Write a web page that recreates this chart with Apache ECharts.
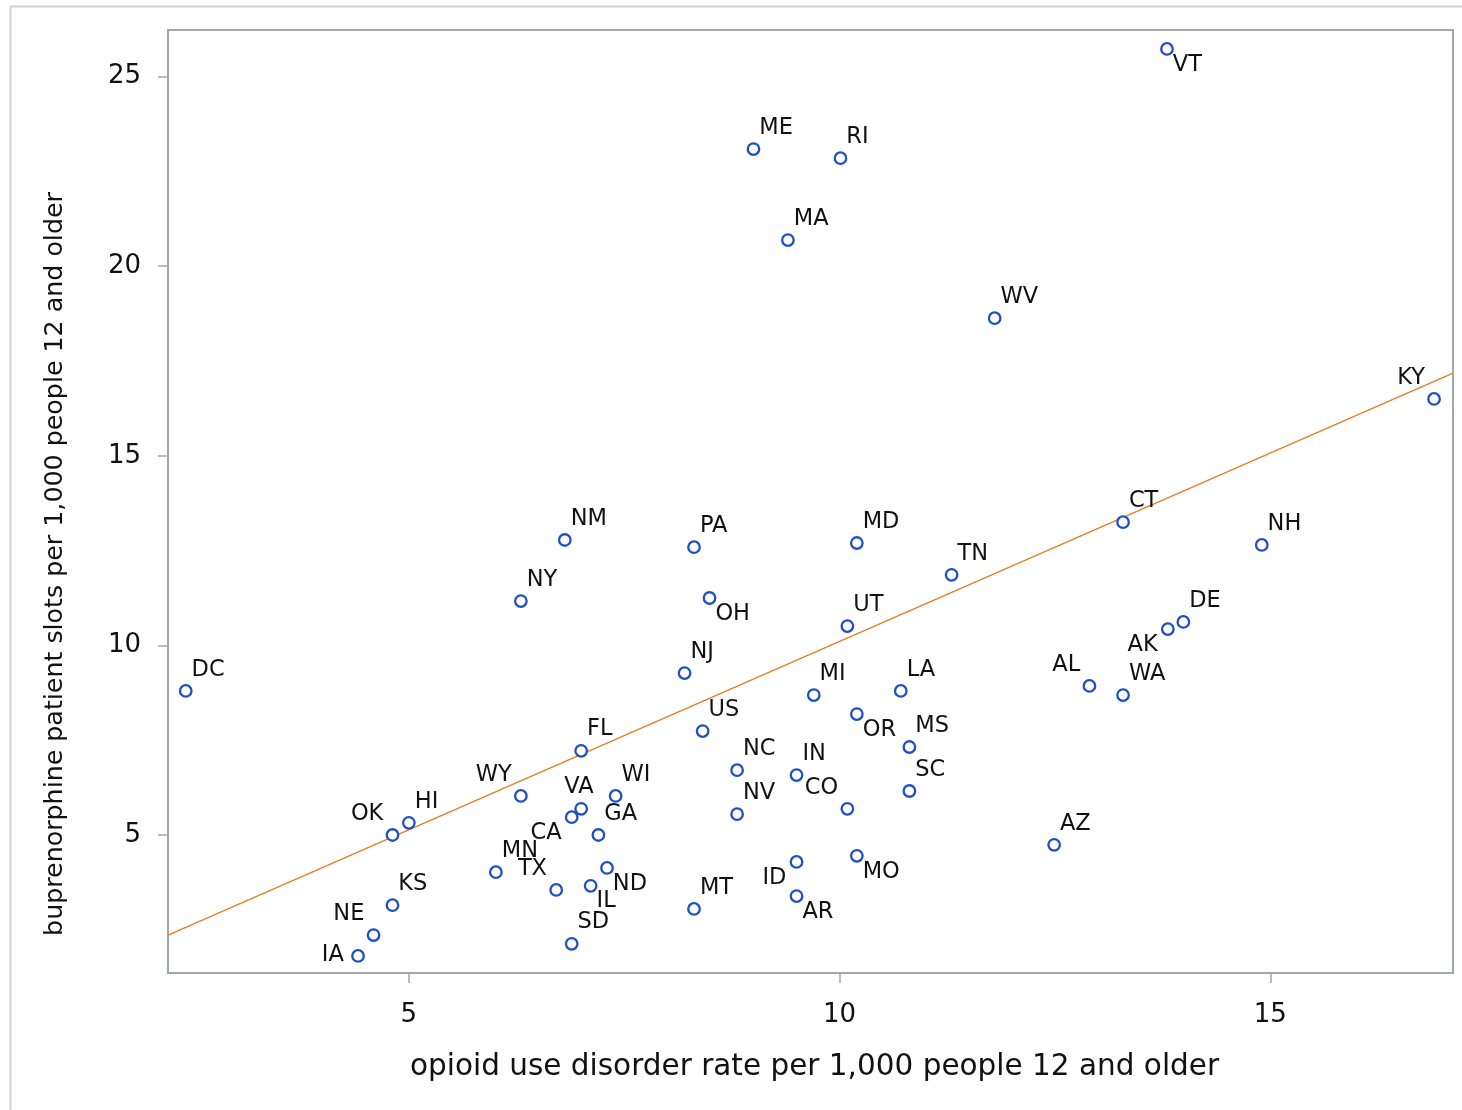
<!DOCTYPE html>
<html>
<head>
<meta charset="utf-8">
<script src="https://cdn.jsdelivr.net/npm/echarts@6/dist/echarts.min.js"></script>
<style>
html,body{margin:0;padding:0;background:#fff;}
#chart{width:1462px;height:1110px;}
</style>
</head>
<body>
<div id="chart"></div>
<script>
// ---- data ----
const states = ['VT','ME','RI','MA','WV','KY','CT','NH','NM','PA','MD','TN','NY','OH','UT','DE','AK','DC','NJ','MI','LA','AL','WA','OR','US','FL','MS','NC','IN','SC','WY','WI','VA','CA','CO','NV','HI','OK','GA','AZ','MO','ID','ND','MN','IL','TX','AR','KS','MT','NE','SD','IA'];
const oudRate = [13.80,9.00,10.01,9.40,11.80,16.90,13.29,14.90,6.81,8.31,10.20,11.30,6.30,8.49,10.09,13.99,13.81,2.41,8.20,9.70,10.71,12.90,13.29,10.20,8.41,7.00,10.81,8.81,9.50,10.81,6.30,7.40,7.00,6.89,10.09,8.81,5.00,4.81,7.20,12.49,10.20,9.50,7.30,6.01,7.11,6.71,9.50,4.81,8.31,4.59,6.89,4.41];
const slots   = [25.73,23.09,22.85,20.69,18.63,16.50,13.25,12.65,12.78,12.59,12.70,11.86,11.17,11.25,10.51,10.62,10.43,8.80,9.27,8.69,8.80,8.93,8.69,8.19,7.74,7.22,7.32,6.71,6.58,6.16,6.03,6.03,5.69,5.47,5.69,5.55,5.32,5.00,5.00,4.74,4.45,4.29,4.13,4.02,3.66,3.55,3.39,3.15,3.05,2.36,2.13,1.81];
// fitted line end points
const fitX = [2.204, 17.12];
const fitY = [2.36, 17.18];
const xTicks = [5, 10, 15];
const yTicks = [5, 10, 15, 20, 25];

// ---- label placement (style) ----
const labelPlace = {VT:'BR',KY:'TL',OH:'BR',AK:'BL',AL:'TL',OR:'BR',WY:'TL',VA:'T',CA:'BL',CO:'TL',OK:'TL',MO:'BR',ID:'BL',ND:'BR',IL:'BR',TX:'TL',AR:'BR',NE:'TL',IA:'L'};
const placeStyle = {
  TR:{dx:7, dy:-20, align:'left'},
  TL:{dx:-8, dy:-20, align:'right'},
  BR:{dx:7, dy:17, align:'left'},
  BL:{dx:-9, dy:17, align:'right'},
  T: {dx:-1, dy:-21, align:'center'},
  L: {dx:-13, dy:0, align:'right'}
};
const SYM = 11.5;
const FONT = 'DejaVu Sans';
const TXT = '#111';
const FRAME = '#a2a7ac';

const pts = states.map((s, i) => {
  const p = placeStyle[labelPlace[s] || 'TR'];
  return {
    value: [oudRate[i], slots[i]],
    name: s,
    label: {
      position: [SYM/2 + p.dx, SYM/2 + p.dy],
      align: p.align,
      verticalAlign: 'middle'
    }
  };
});

const chart = echarts.init(document.getElementById('chart'), null, {renderer:'canvas'});
chart.setOption({
  animation: false,
  backgroundColor: '#fff',
  grid: {left:168, right:9, top:30, bottom:137, show:true, borderColor:FRAME, borderWidth:2, backgroundColor:'#fff'},
  xAxis: {
    type:'value', min:2.204, max:17.12,
    axisLine:{show:false},
    splitLine:{show:false},
    axisTick:{show:true, inside:false, length:10, lineStyle:{color:FRAME, width:1.5}, customValues:xTicks},
    axisLabel:{fontFamily:FONT, fontSize:26, color:TXT, margin:29, customValues:xTicks},
    name:'opioid use disorder rate per 1,000 people 12 and older',
    nameLocation:'middle', nameGap:79,
    nameTextStyle:{fontFamily:FONT, fontSize:29.5, color:TXT, padding:[0,0,0,8]}
  },
  yAxis: {
    type:'value', min:1.36, max:26.23,
    axisLine:{show:false},
    splitLine:{show:false},
    axisTick:{show:true, inside:false, length:10, lineStyle:{color:FRAME, width:1.5}, customValues:yTicks},
    axisLabel:{fontFamily:FONT, fontSize:26, color:TXT, margin:27, customValues:yTicks}
  },
  graphic: [
    {type:'rect', left:8, top:4, shape:{width:1470, height:1120}, style:{fill:null, stroke:'#d2d2d2', lineWidth:2}, z:-10, silent:true},
    {type:'text', x:55, y:564, rotation:Math.PI/2,
     style:{text:'buprenorphine patient slots per 1,000 people 12 and older', fontFamily:FONT, fontSize:25.3, fill:TXT, align:'center', verticalAlign:'middle'}}
  ],
  series: [
    {
      type:'line',
      data: fitX.map((x,i)=>[x, fitY[i]]),
      showSymbol:false, symbol:'none',
      lineStyle:{color:'#ee7a22', width:1.3},
      clip:true, z:2, silent:true
    },
    {
      type:'scatter',
      data: pts,
      symbol:'circle', symbolSize:SYM,
      itemStyle:{color:'#fff', borderColor:'#1f4fc2', borderWidth:2.3, opacity:1},
      label:{show:true, formatter:'{b}', fontFamily:FONT, fontSize:22.5, color:TXT, textBorderWidth:0},
      labelLayout:{hideOverlap:false},
      z:3
    }
  ]
});
</script>
</body>
</html>
